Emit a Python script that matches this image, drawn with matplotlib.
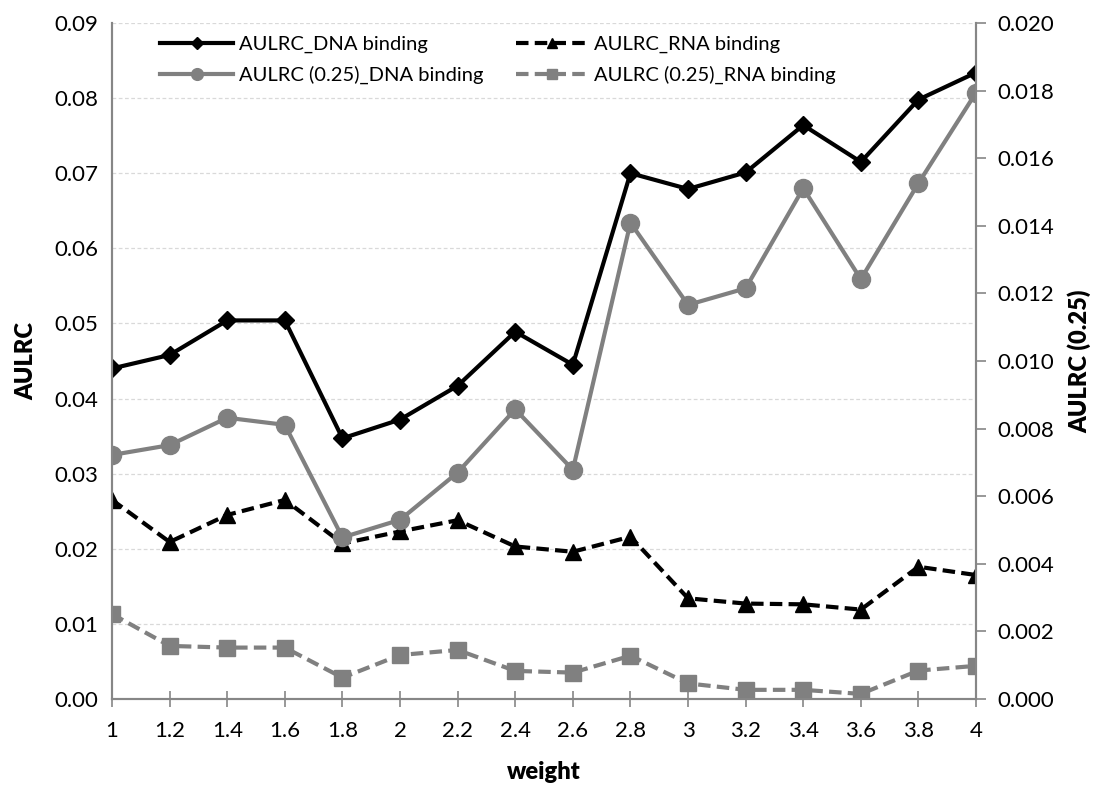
import numpy as np
import matplotlib
matplotlib.use('Agg')
import matplotlib.pyplot as plt

plt.rcParams['font.family'] = ['Lato', 'DejaVu Sans']

# Data
weights = ['1', '1.2', '1.4', '1.6', '1.8', '2', '2.2', '2.4', '2.6', '2.8',
           '3', '3.2', '3.4', '3.6', '3.8', '4']
aulrc_dna = [0.0440, 0.0458, 0.0504, 0.0504, 0.0347, 0.0372, 0.0417, 0.0489,
             0.0445, 0.0700, 0.0679, 0.0701, 0.0764, 0.0715, 0.0798, 0.0834]
aulrc_rna = [0.0265, 0.0209, 0.0245, 0.0265, 0.0207, 0.0223, 0.0238, 0.0203,
             0.0196, 0.0216, 0.0134, 0.0127, 0.0126, 0.0119, 0.0176, 0.0165]
aulrc25_dna = [0.00722, 0.00751, 0.00832, 0.00811, 0.00478, 0.00530, 0.00670,
               0.00857, 0.00678, 0.01409, 0.01166, 0.01215, 0.01511, 0.01242,
               0.01526, 0.01794]
aulrc25_rna = [0.00251, 0.00157, 0.00152, 0.00152, 0.00063, 0.00130, 0.00145,
               0.00083, 0.00078, 0.00128, 0.00046, 0.00027, 0.00027, 0.00015,
               0.00084, 0.00098]

x = np.arange(len(weights))
gray = '#808080'
axis_col = '#868686'

fig = plt.figure(figsize=(11.05, 7.85), dpi=100)
ax = fig.add_axes([0.1014, 0.1096, 0.7819, 0.8611])
ax2 = ax.twinx()

l1, = ax.plot(x, aulrc_dna, color='black', lw=3, marker='D', ms=9,
              label='AULRC_DNA binding')
l2, = ax.plot(x, aulrc_rna, color='black', lw=3, ls=(0, (3, 1.5)), marker='^', ms=11,
              label='AULRC_RNA binding')
l3, = ax2.plot(x, aulrc25_dna, color=gray, lw=3, marker='o', ms=13,
               label='AULRC (0.25)_DNA binding')
l4, = ax2.plot(x, aulrc25_rna, color=gray, lw=3, ls=(0, (3, 1.5)), marker='s', ms=12,
               label='AULRC (0.25)_RNA binding')

ax.set_xlim(0, len(weights) - 1)
ax.set_ylim(0, 0.09)
ax2.set_ylim(0, 0.02)
ax.set_xticks(x)
ax.set_xticklabels(weights)
ax.set_yticks(np.arange(0, 0.0901, 0.01))
ax.set_yticklabels(['%.2f' % v for v in np.arange(0, 0.0901, 0.01)])
ax2.set_yticks(np.arange(0, 0.02001, 0.002))
ax2.set_yticklabels(['%.3f' % v for v in np.arange(0, 0.02001, 0.002)])

ax.grid(axis='y', color='#d9d9d9', ls=(0, (3, 2)), lw=0.9)
ax.set_axisbelow(True)

for a in (ax, ax2):
    a.spines['top'].set_visible(False)
    for s in ('left', 'right', 'bottom'):
        a.spines[s].set_color(axis_col)
        a.spines[s].set_linewidth(1.5)

ax.tick_params(axis='y', length=0, labelsize=16, pad=10)
ax.tick_params(axis='x', direction='inout', length=12, width=1.2, color=axis_col,
               labelsize=16, pad=10)
ax2.tick_params(axis='y', direction='out', length=7, width=1.2, color=axis_col,
                labelsize=16, pad=8)

ax.set_xlabel('weight', fontsize=17, fontweight='heavy', labelpad=14)
ax.set_ylabel('AULRC', fontsize=17, fontweight='heavy', labelpad=12)
ax2.set_ylabel('AULRC (0.25)', fontsize=17, fontweight='heavy', labelpad=10)

ax.legend(handles=[l1, l3, l2, l4], ncol=2, frameon=False, fontsize=14.5,
          loc='upper left', bbox_to_anchor=(0.035, 1.008), handlelength=3.6,
          columnspacing=1.6, handletextpad=0.3, labelspacing=0.65, markerscale=0.65)

fig.savefig('out.png', dpi=100)
